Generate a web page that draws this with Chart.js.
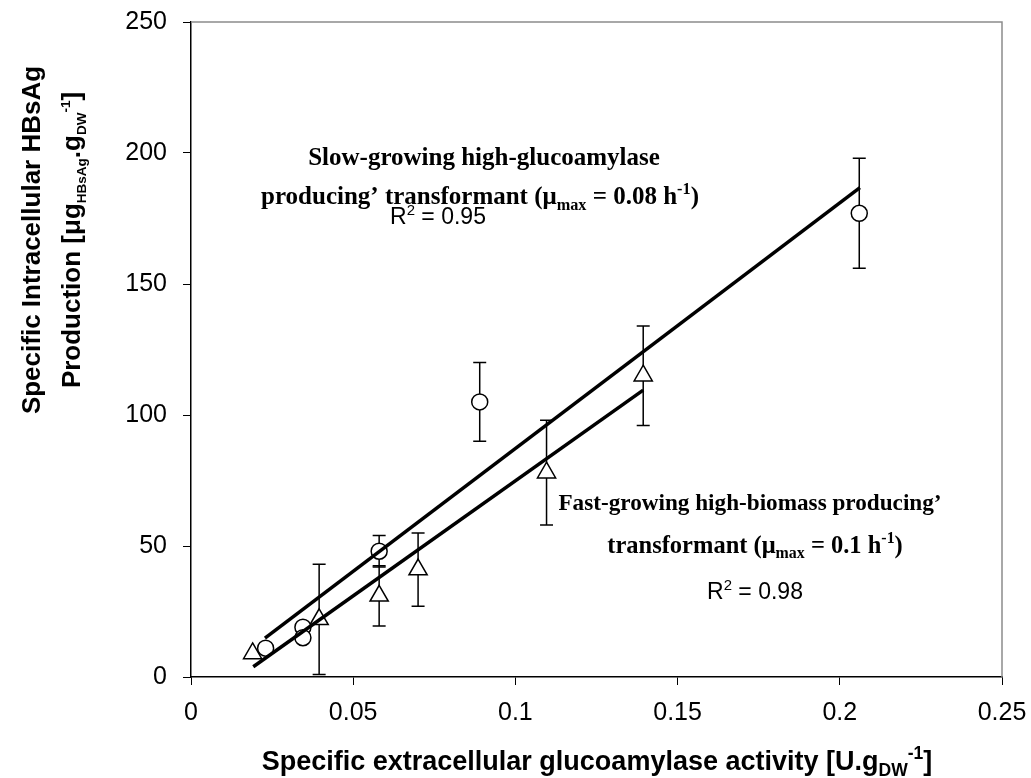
<!DOCTYPE html>
<html>
<head>
<meta charset="utf-8">
<script src="https://cdn.jsdelivr.net/npm/chart.js@4"></script>
<style>
  body { margin: 0; background: #fff; }
</style>
</head>
<body>
<canvas id="chart" width="1031" height="778"></canvas>
<script>
// slow-growing, high-glucoamylase transformant (circles)
const slowX = [0.023, 0.0345, 0.0345, 0.058, 0.089, 0.206];
const slowY = [11, 19, 15, 48, 105, 177];
const slowErr = [0, 0, 0, 6, 15, 21];
const slowFitX = [0.0228, 0.2062];
const slowFitY = [14.8, 186.8];

// fast-growing, high-biomass transformant (triangles)
const fastX = [0.019, 0.0395, 0.058, 0.070, 0.1096, 0.1394];
const fastY = [9, 22, 31, 41, 78, 115];
const fastErr = [0, 21, 11.5, 14, 20, 19];
const fastFitX = [0.0192, 0.1394];
const fastFitY = [3.9, 109.5];

const xTicks = [0, 0.05, 0.1, 0.15, 0.2, 0.25];
const xTickLabels = ['0', '0.05', '0.1', '0.15', '0.2', '0.25'];
const yTicks = [0, 50, 100, 150, 200, 250];

const SANS = '"Liberation Sans", Arial, sans-serif';
const SERIF = '"Liberation Serif", "Times New Roman", serif';

const pts = (xs, ys) => xs.map((x, i) => ({ x: x, y: ys[i] }));

// draws one line of text made of pieces (normal / sub / sup), centred on cx
function drawRich(ctx, parts, cx, y, size, weight, family, small) {
    const k = small || 0.65;
    let total = 0;
    parts.forEach(p => {
        const s = p.k ? size * k : size;
        ctx.font = weight + ' ' + s + 'px ' + family;
        p.w = ctx.measureText(p.t).width;
        total += p.w;
    });
    let x = cx - total / 2;
    ctx.textAlign = 'left';
    ctx.textBaseline = 'alphabetic';
    parts.forEach(p => {
        const s = p.k ? size * k : size;
        ctx.font = weight + ' ' + s + 'px ' + family;
        let dy = 0;
        if (p.k === 'sub') dy = size * 0.22;
        if (p.k === 'sup') dy = -size * 0.4;
        ctx.fillText(p.t, x, y + dy);
        x += p.w;
    });
}

const errorBars = {
    id: 'errorBars',
    beforeDatasetsDraw(chart) {
        const ctx = chart.ctx;
        const xs = chart.scales.x, ys = chart.scales.y;
        const sets = [[slowX, slowY, slowErr], [fastX, fastY, fastErr]];
        ctx.save();
        ctx.strokeStyle = '#000';
        ctx.lineWidth = 1.5;
        sets.forEach(([X, Y, E]) => {
            X.forEach((x, i) => {
                if (!E[i]) return;
                const px = xs.getPixelForValue(x);
                const top = ys.getPixelForValue(Y[i] + E[i]);
                const bot = ys.getPixelForValue(Math.max(0, Y[i] - E[i]));
                ctx.beginPath();
                ctx.moveTo(px, top); ctx.lineTo(px, bot);
                ctx.moveTo(px - 6.5, top); ctx.lineTo(px + 6.5, top);
                ctx.moveTo(px - 6.5, bot); ctx.lineTo(px + 6.5, bot);
                ctx.stroke();
            });
        });
        ctx.restore();
    }
};

const decorations = {
    id: 'decorations',
    afterDraw(chart) {
        const ctx = chart.ctx;
        const a = chart.chartArea;
        ctx.save();
        // grey frame on top and right
        ctx.strokeStyle = '#8c8c8c';
        ctx.lineWidth = 1.5;
        ctx.beginPath();
        ctx.moveTo(a.left, a.top); ctx.lineTo(a.right, a.top); ctx.lineTo(a.right, a.bottom);
        ctx.stroke();

        ctx.fillStyle = '#000';
        // annotations
        drawRich(ctx, [{ t: 'Slow-growing high-glucoamylase' }], 484, 165, 25, 'bold', SERIF);
        drawRich(ctx, [{ t: 'producing\u2019 transformant (\u03bc' }, { t: 'max', k: 'sub' },
            { t: ' = 0.08 h' }, { t: '-1', k: 'sup' }, { t: ')' }], 480, 204, 25, 'bold', SERIF);
        drawRich(ctx, [{ t: 'R' }, { t: '2', k: 'sup' }, { t: ' = 0.95' }], 438, 224, 23, 'normal', SANS);

        drawRich(ctx, [{ t: 'Fast-growing high-biomass producing\u2019' }], 750, 510, 23.2, 'bold', SERIF);
        drawRich(ctx, [{ t: 'transformant (\u03bc' }, { t: 'max', k: 'sub' },
            { t: ' = 0.1 h' }, { t: '-1', k: 'sup' }, { t: ')' }], 755, 553, 24.5, 'bold', SERIF);
        drawRich(ctx, [{ t: 'R' }, { t: '2', k: 'sup' }, { t: ' = 0.98' }], 755, 599, 23, 'normal', SANS);

        // x axis title
        drawRich(ctx, [{ t: 'Specific extracellular glucoamylase activity [U.g' }, { t: 'DW', k: 'sub' },
            { t: '-1', k: 'sup' }, { t: ']' }], 597, 770, 27, 'bold', SANS);

        // y axis title (rotated, two lines)
        ctx.translate(0, 240);
        ctx.rotate(-Math.PI / 2);
        drawRich(ctx, [{ t: 'Specific Intracellular HBsAg' }], 0, 40, 26, 'bold', SANS);
        drawRich(ctx, [{ t: 'Production [\u03bcg' }, { t: 'HBsAg', k: 'sub' }, { t: '.g' }, { t: 'DW', k: 'sub' },
            { t: '-1', k: 'sup' }, { t: ']' }], 0, 80, 26, 'bold', SANS, 0.52);
        ctx.restore();
    }
};

Chart.defaults.font.family = SANS;
Chart.defaults.font.size = 25;
Chart.defaults.color = '#000';

new Chart(document.getElementById('chart'), {
    type: 'scatter',
    data: {
        datasets: [
            {
                label: 'Slow fit',
                data: pts(slowFitX, slowFitY),
                showLine: true,
                borderColor: '#000',
                borderWidth: 3.5,
                pointRadius: 0
            },
            {
                label: 'Fast fit',
                data: pts(fastFitX, fastFitY),
                showLine: true,
                borderColor: '#000',
                borderWidth: 3.5,
                pointRadius: 0
            },
            {
                label: 'Slow-growing',
                data: pts(slowX, slowY),
                pointStyle: 'circle',
                pointRadius: 8,
                pointBackgroundColor: '#fff',
                pointBorderColor: '#000',
                pointBorderWidth: 1.5
            },
            {
                label: 'Fast-growing',
                data: pts(fastX, fastY),
                pointStyle: 'triangle',
                pointRadius: 10.5,
                pointBackgroundColor: '#fff',
                pointBorderColor: '#000',
                pointBorderWidth: 1.5
            }
        ]
    },
    options: {
        responsive: false,
        animation: false,
        layout: { padding: { top: 22, right: 29, left: 0, bottom: 0 } },
        scales: {
            x: {
                type: 'linear',
                min: 0,
                max: 0.25,
                afterBuildTicks: s => { s.ticks = xTicks.map(v => ({ value: v })); },
                afterFit: s => { s.height = 101; s.paddingLeft = 0; s.paddingRight = 0; },
                ticks: {
                    padding: 13,
                    maxRotation: 0,
                    callback: (v, i) => xTickLabels[i]
                },
                grid: { drawOnChartArea: false, tickLength: 8, color: '#000', lineWidth: 1 },
                border: { color: '#000', width: 1.5 }
            },
            y: {
                min: 0,
                max: 250,
                afterBuildTicks: s => { s.ticks = yTicks.map(v => ({ value: v })); },
                afterFit: s => { s.width = 191; s.paddingTop = 0; s.paddingBottom = 0; },
                ticks: { padding: 16 },
                grid: { drawOnChartArea: false, tickLength: 8, color: '#000', lineWidth: 1 },
                border: { color: '#000', width: 1.5 }
            }
        },
        plugins: {
            legend: { display: false },
            tooltip: { enabled: false }
        }
    },
    plugins: [errorBars, decorations]
});
</script>
</body>
</html>
